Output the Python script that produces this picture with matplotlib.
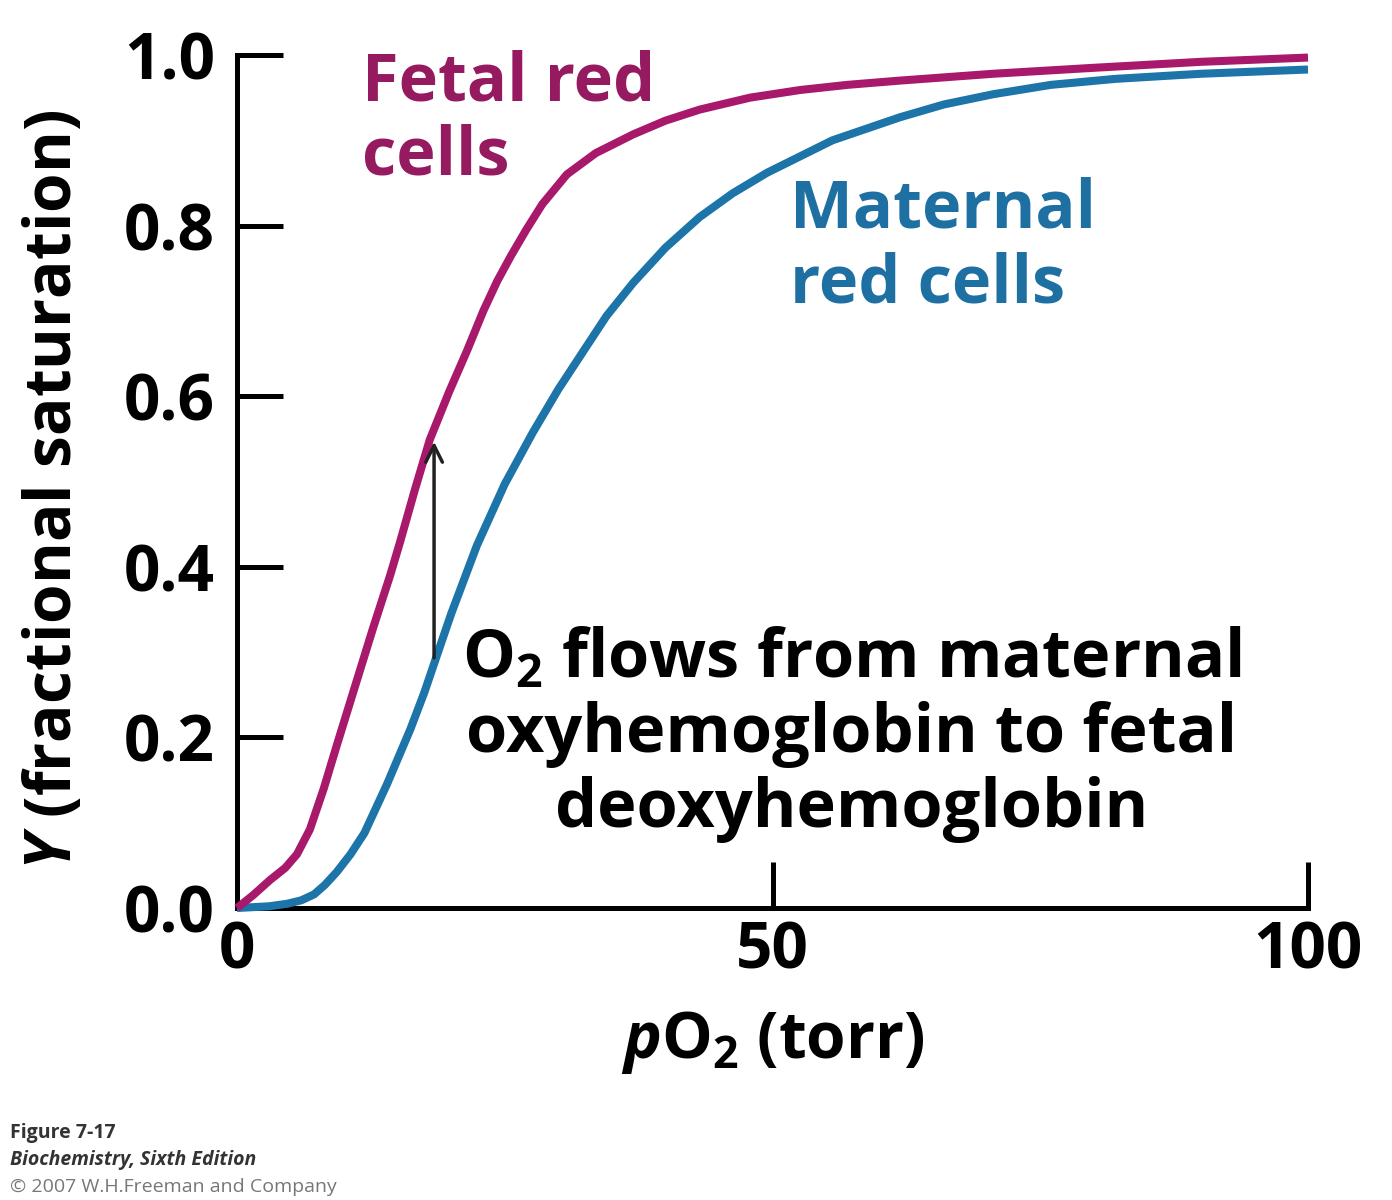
import matplotlib
matplotlib.use("Agg")
import matplotlib.pyplot as plt

# oxygen binding curves
po2_fetal = [0, 1.5, 3.1, 4.5, 5.6, 6.8, 8.1, 9.3, 10.9, 12.7, 14.3, 15.2, 16.6, 18.0,
             19.8, 21.5, 23.0, 24.3, 25.6, 27.0, 28.5, 30.8, 33.5, 37.0, 40.0, 43.2,
             47.9, 52.6, 57.0, 61.9, 70.6, 80.0, 90.0, 100.0]
y_fetal = [0.0, 0.015, 0.033, 0.047, 0.063, 0.092, 0.14, 0.19, 0.255, 0.328, 0.39,
           0.428, 0.49, 0.549, 0.605, 0.654, 0.70, 0.735, 0.765, 0.795, 0.825, 0.86,
           0.885, 0.907, 0.923, 0.936, 0.95, 0.959, 0.965, 0.97, 0.978, 0.985, 0.992,
           0.997]

po2_maternal = [0, 3, 4.7, 6.0, 7.2, 8.2, 9.3, 10.6, 11.9, 14.0, 16.2, 17.5, 18.5, 20.0,
                22.4, 25.0, 27.6, 30.0, 32.3, 34.5, 37.0, 40.0, 43.2, 46.3, 49.5, 55.6,
                61.9, 66.0, 70.6, 76.0, 82.0, 90.0, 100.0]
y_maternal = [0.0, 0.002, 0.005, 0.009, 0.016, 0.027, 0.042, 0.063, 0.088, 0.145, 0.21,
              0.253, 0.29, 0.345, 0.425, 0.497, 0.557, 0.608, 0.652, 0.694, 0.733, 0.774,
              0.81, 0.838, 0.862, 0.9, 0.927, 0.942, 0.954, 0.965, 0.972, 0.978, 0.983]

x_ticks = [0, 50, 100]
y_ticks = [0.0, 0.2, 0.4, 0.6, 0.8, 1.0]

arrow_x = 18.4
arrow_from = 0.29
arrow_to = 0.55

fetal_color = "#a8196b"
fetal_text = "#951a60"
maternal_color = "#1c74a8"
maternal_text = "#1f70a2"

plt.rcParams["font.family"] = ["Open Sans", "DejaVu Sans"]
plt.rcParams["font.weight"] = "bold"
plt.rcParams["mathtext.fontset"] = "custom"
plt.rcParams["mathtext.rm"] = "Open Sans:bold"
plt.rcParams["mathtext.it"] = "Open Sans:bold:italic"
plt.rcParams["mathtext.bf"] = "Open Sans:bold"

fig = plt.figure(figsize=(13.92, 12), dpi=100)
ax = fig.add_axes([237 / 1392, 1 - 908 / 1200, (1308 - 237) / 1392, (908 - 55) / 1200])

ax.plot(po2_maternal, y_maternal, color=maternal_color, lw=5.8, clip_on=False,
        solid_capstyle="butt", solid_joinstyle="round", zorder=3)
ax.plot(po2_fetal, y_fetal, color=fetal_color, lw=5.8, clip_on=False,
        solid_capstyle="butt", solid_joinstyle="round", zorder=4)

ax.annotate("", xy=(arrow_x, arrow_to), xytext=(arrow_x, arrow_from),
            arrowprops=dict(arrowstyle="->", color="#222222", lw=2.5,
                            mutation_scale=30), zorder=5)

ax.set_xlim(0, 100)
ax.set_ylim(0, 1)
for side in ["top", "right"]:
    ax.spines[side].set_visible(False)
for side in ["left", "bottom"]:
    ax.spines[side].set_linewidth(3.6)

ax.set_xticks(x_ticks)
ax.set_xticklabels([str(t) for t in x_ticks])
ax.set_yticks(y_ticks)
ax.set_yticklabels([f"{t:.1f}" for t in y_ticks])
ax.tick_params(axis="both", direction="in", length=33, width=3.6, labelsize=46)
ax.tick_params(axis="y", pad=16)
ax.tick_params(axis="x", pad=8)
ax.xaxis.get_major_ticks()[0].tick1line.set_visible(False)

ax.set_ylabel(r"$Y$ (fractional saturation)", fontsize=46, fontweight="bold")
ax.yaxis.set_label_coords(-0.14, 0.49)
ax.set_xlabel(r"$p\mathrm{O}_\mathrm{2}$ (torr)", fontsize=46, fontweight="bold")
ax.xaxis.set_label_coords(0.5, -0.118)

ax.text(11.7, 0.924, "Fetal red\ncells", color=fetal_text, fontsize=48,
        ha="left", va="center", linespacing=1.15)
ax.text(51.6, 0.774, "Maternal\nred cells", color=maternal_text, fontsize=48,
        ha="left", va="center", linespacing=1.15)
ax.text(57.4, 0.203, "O$_\\mathrm{2}$ flows from maternal\noxyhemoglobin to fetal\ndeoxyhemoglobin",
        color="black", fontsize=48, ha="center", va="center", linespacing=1.15)

fig.text(0.007, 0.052, "Figure 7-17", fontsize=14, color="#333333", ha="left")
fig.text(0.007, 0.029, "Biochemistry, Sixth Edition", fontsize=14, style="italic",
         color="#333333", ha="left")
fig.text(0.007, 0.007, "\u00a9 2007 W.H.Freeman and Company", fontsize=14,
         weight="normal", color="#777777", ha="left")

fig.savefig("out.png", dpi=100)
